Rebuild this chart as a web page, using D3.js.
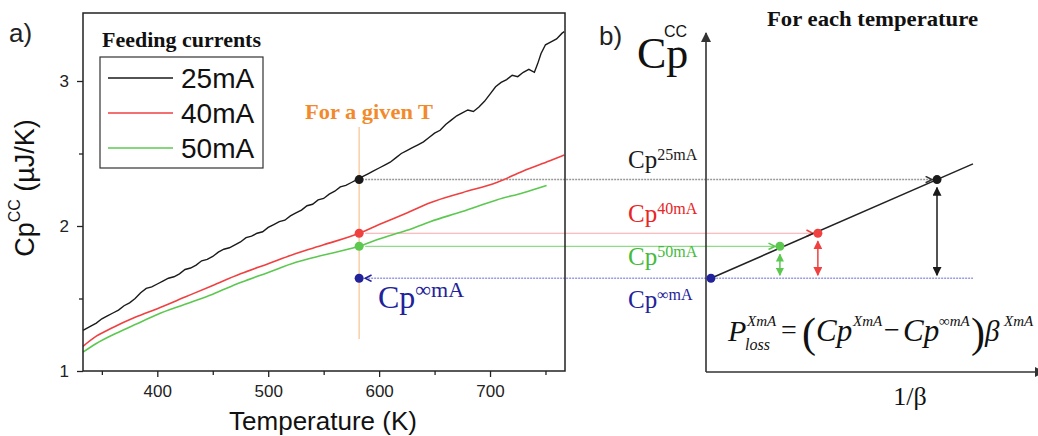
<!DOCTYPE html>
<html><head><meta charset="utf-8">
<script src="https://cdn.jsdelivr.net/npm/d3@7"></script>
<style>
html,body{margin:0;padding:0;background:#fff;}
svg{display:block;}
</style></head>
<body><svg id="c" width="1038" height="436"></svg>
<script>
// ---------- DATA ----------
const temps25 = [333,340,345,350,355,360,365,370,375,380,385,390,395,400,405,410,415,420,425,430,435,440,445,450,455,460,465,470,475,480,485,490,495,500,505,510,515,520,525,530,535,540,545,550,555,560,565,570,575,580,585,590,595,600,605,610,615,620,625,630,635,640,645,650,655,660,665,670,675,680,685,690,695,700,705,710,715,720,725,730,735,740,743,746,750,755,760,765,767];
const cp25 = [1.28,1.31,1.33,1.36,1.38,1.40,1.42,1.45,1.47,1.50,1.54,1.57,1.58,1.60,1.62,1.64,1.65,1.67,1.70,1.71,1.73,1.76,1.77,1.79,1.82,1.84,1.85,1.87,1.89,1.92,1.93,1.95,1.96,1.99,2.01,2.03,2.04,2.07,2.09,2.11,2.14,2.15,2.18,2.19,2.22,2.24,2.27,2.28,2.30,2.32,2.34,2.36,2.38,2.40,2.42,2.44,2.47,2.50,2.52,2.54,2.56,2.58,2.61,2.64,2.66,2.70,2.73,2.76,2.78,2.80,2.79,2.82,2.86,2.91,2.96,2.99,3.01,3.04,3.03,3.06,3.08,3.06,3.12,3.19,3.25,3.27,3.29,3.33,3.34];
const temps40 = [333,345,360,380,400,425,450,475,500,525,550,582,600,625,646,675,706,730,754,767];
const cp40 = [1.17,1.24,1.30,1.37,1.43,1.51,1.59,1.67,1.74,1.81,1.87,1.95,2.01,2.09,2.16,2.23,2.30,2.38,2.45,2.49];
const temps50 = [333,345,360,380,400,425,450,475,500,525,550,582,600,625,646,675,706,730,751];
const cp50 = [1.13,1.19,1.25,1.32,1.39,1.46,1.53,1.61,1.68,1.75,1.80,1.86,1.91,1.97,2.03,2.10,2.18,2.23,2.28];
const series = ["25mA","40mA","50mA"];
const givenT = 582;
const cpAtT = [2.32, 1.95, 1.86];      // 25, 40, 50 mA at given T
const cpInf = 1.64;                    // extrapolated Cp at infinite current
const invBeta = [0.70, 0.339, 0.224];  // 1/beta for 25, 40, 50 mA
const invBetaInf = 0.015;
const invBetaLineEnd = 0.809;
const xTicks = [400,500,600,700];
const xMinor = [350,450,550,650,750];
const yTicks = [1,2,3];
const yMinor = [1.5,2.5];

// ---------- SETUP ----------
const svg = d3.select("#c");
const SANS = "'Liberation Sans', Arial, sans-serif";
const SERIF = "'Liberation Serif', 'Times New Roman', serif";
const colBlack="#1a1a1a", colRed="#f04040", colGreen="#5cc850", colBlue="#22229a";
const xA = d3.scaleLinear().domain([333, 767.6]).range([83, 565]);
const y = d3.scaleLinear().domain([1, 3.469]).range([371, 13]);
const xB = d3.scaleLinear().domain([0, 1]).range([706, 1036]);

// markers
const defs = svg.append("defs");
function chevron(id, col){
  defs.append("marker").attr("id",id).attr("viewBox","0 0 10 10").attr("refX",9).attr("refY",5)
   .attr("markerWidth",8).attr("markerHeight",8).attr("markerUnits","userSpaceOnUse").attr("orient","auto-start-reverse")
   .append("path").attr("d","M1,1 L9,5 L1,9").attr("fill","none").attr("stroke",col).attr("stroke-width",2);
}
function tri(id, col, s){
  defs.append("marker").attr("id",id).attr("viewBox","0 0 10 10").attr("refX",9).attr("refY",5)
   .attr("markerWidth",s).attr("markerHeight",s).attr("markerUnits","userSpaceOnUse").attr("orient","auto-start-reverse")
   .append("path").attr("d","M0,0 L10,5 L0,10 Z").attr("fill",col);
}
chevron("chK","#333"); chevron("chR",colRed); chevron("chG",colGreen); chevron("chB",colBlue);
tri("trK",colBlack,9); tri("trR",colRed,9); tri("trG",colGreen,8); tri("trAx","#333",10);

// ---------- PANEL A ----------
svg.append("line").attr("x1",xA(givenT)).attr("x2",xA(givenT)).attr("y1",127).attr("y2",339)
  .attr("stroke","#f9cfa8").attr("stroke-width",1.5);
svg.append("text").attr("x",305).attr("y",119)
  .attr("font-family",SERIF).attr("font-weight","bold").attr("font-size",22).attr("fill","#f28a2c")
  .attr("textLength",128).attr("lengthAdjust","spacingAndGlyphs").text("For a given T");

// horizontal guide lines (left panel dot -> right panel dot)
svg.append("line").attr("x1",xA(givenT)+6).attr("x2",xB(invBeta[0])-5).attr("y1",y(cpAtT[0])).attr("y2",y(cpAtT[0]))
  .attr("stroke","#999").attr("stroke-width",1.5).attr("stroke-dasharray","2,1").attr("marker-end","url(#chK)");
svg.append("line").attr("x1",xA(givenT)+6).attr("x2",xB(invBeta[1])-5).attr("y1",y(cpAtT[1])).attr("y2",y(cpAtT[1]))
  .attr("stroke","#f7a8a8").attr("stroke-width",1.2).attr("marker-end","url(#chR)");
svg.append("line").attr("x1",xA(givenT)+6).attr("x2",xB(invBeta[2])-5).attr("y1",y(cpAtT[2])).attr("y2",y(cpAtT[2]))
  .attr("stroke","#8edc86").attr("stroke-width",1.2).attr("marker-end","url(#chG)");
svg.append("line").attr("x1",xA(givenT)+6).attr("x2",xB(invBetaLineEnd)).attr("y1",y(cpInf)).attr("y2",y(cpInf))
  .attr("stroke","#9a9ae6").attr("stroke-width",1.5).attr("stroke-dasharray","2,1").attr("marker-start","url(#chB)");

// curves
const lineA = d3.line().x(d=>xA(d[0])).y(d=>y(d[1]));
const lineS = d3.line().x(d=>xA(d[0])).y(d=>y(d[1])).curve(d3.curveMonotoneX);
svg.append("path").attr("d", lineS(d3.zip(temps40,cp40))).attr("fill","none").attr("stroke",colRed).attr("stroke-width",1.6);
svg.append("path").attr("d", lineS(d3.zip(temps50,cp50))).attr("fill","none").attr("stroke",colGreen).attr("stroke-width",1.6);
svg.append("path").attr("d", lineA(d3.zip(temps25,cp25))).attr("fill","none").attr("stroke",colBlack).attr("stroke-width",1.4);

const dotCols=[colBlack,colRed,colGreen];
cpAtT.forEach((v,i)=>svg.append("circle").attr("cx",xA(givenT)).attr("cy",y(v)).attr("r",4.5).attr("fill",dotCols[i]));
svg.append("circle").attr("cx",xA(givenT)).attr("cy",y(cpInf)).attr("r",4.5).attr("fill",colBlue);

// Cp inf label (left)
const li = svg.append("text").attr("x",378).attr("y",308).attr("font-family",SERIF).attr("fill",colBlue);
li.append("tspan").attr("font-size",32).text("Cp");
li.append("tspan").attr("font-size",22).attr("dy",-11).text("∞mA");

// frame
svg.append("rect").attr("x",83).attr("y",13).attr("width",482).attr("height",358)
  .attr("fill","none").attr("stroke","#222").attr("stroke-width",1.5);

// axes
function styleAxis(g){ g.select(".domain").remove(); g.selectAll("line").attr("stroke","#222").attr("stroke-width",1.3);
  g.selectAll("text").attr("font-family",SANS).attr("font-size",17).attr("fill","#222"); }
svg.append("g").attr("transform","translate(0,371)").call(d3.axisBottom(xA).tickValues(xTicks).tickSize(6).tickPadding(8).tickFormat(d3.format("d"))).call(styleAxis);
svg.append("g").attr("transform","translate(0,371)").call(d3.axisBottom(xA).tickValues(xMinor).tickSize(4).tickFormat("")).call(styleAxis);
svg.append("g").attr("transform","translate(83,0)").call(d3.axisLeft(y).tickValues(yTicks).tickSize(6).tickPadding(8).tickFormat(d3.format("d"))).call(styleAxis);
svg.append("g").attr("transform","translate(83,0)").call(d3.axisLeft(y).tickValues(yMinor).tickSize(4).tickFormat("")).call(styleAxis);

// axis titles
svg.append("text").attr("x",323).attr("y",430).attr("text-anchor","middle").attr("font-family",SANS).attr("font-size",26)
  .attr("fill","#111").text("Temperature (K)");
const yl = svg.append("text").attr("transform","translate(34,188) rotate(-90)").attr("text-anchor","middle")
  .attr("font-family",SANS).attr("font-size",27).attr("fill","#111");
yl.append("tspan").text("Cp");
yl.append("tspan").attr("font-size",16).attr("dy",-14).text("CC");
yl.append("tspan").attr("dy",14).text(" (µJ/K)");

// legend
svg.append("text").attr("x",102).attr("y",47).attr("font-family",SERIF).attr("font-weight","bold")
  .attr("font-size",21).attr("fill","#111").attr("textLength",159).attr("lengthAdjust","spacingAndGlyphs").text("Feeding currents");
svg.append("rect").attr("x",100).attr("y",57).attr("width",163).attr("height",111).attr("fill","#fff").attr("stroke","#333").attr("stroke-width",1.2);
series.forEach((s,i)=>{
  const yy = 78 + i*35;
  svg.append("line").attr("x1",108).attr("x2",173).attr("y1",yy).attr("y2",yy).attr("stroke",dotCols[i]).attr("stroke-width",1.6);
  svg.append("text").attr("x",181).attr("y",yy+10).attr("font-family",SANS).attr("font-size",28).attr("fill","#111").text(s);
});

// panel labels
svg.append("text").attr("x",9).attr("y",42).attr("font-family",SANS).attr("font-size",26).attr("fill","#222").text("a)");
svg.append("text").attr("x",599).attr("y",45).attr("font-family",SANS).attr("font-size",26).attr("fill","#222").text("b)");

// ---------- PANEL B ----------
svg.append("line").attr("x1",xB(0)).attr("x2",xB(0)).attr("y1",372).attr("y2",33).attr("stroke","#333").attr("stroke-width",1.6).attr("marker-end","url(#trAx)");
svg.append("line").attr("x1",xB(0)).attr("x2",1044).attr("y1",372).attr("y2",372).attr("stroke","#333").attr("stroke-width",1.6).attr("marker-end","url(#trAx)");

// big axis title: Cp with a small sans "CC" superscript, as one text element
const cbt = svg.append("text").attr("x",637).attr("y",68).attr("font-family",SERIF).attr("font-size",44).attr("fill","#111");
cbt.append("tspan").text("Cp");
cbt.append("tspan").attr("x",664).attr("y",37).attr("font-family",SANS).attr("font-size",16).text("CC");
svg.append("text").attr("x",767).attr("y",26).attr("font-family",SERIF).attr("font-weight","bold")
  .attr("font-size",22).attr("fill","#111").attr("textLength",211).attr("lengthAdjust","spacingAndGlyphs").text("For each temperature");

// fit line
svg.append("line").attr("x1",xB(invBetaInf)).attr("y1",y(cpInf))
  .attr("x2",xB(invBetaLineEnd)).attr("y2",y(cpInf + (invBetaLineEnd-invBetaInf)*(cpAtT[0]-cpInf)/(invBeta[0]-invBetaInf)))
  .attr("stroke","#222").attr("stroke-width",1.5);

// double arrows
const arrMk=["trK","trR","trG"];
invBeta.forEach((b,i)=>{
  svg.append("line").attr("x1",xB(b)).attr("x2",xB(b)).attr("y1",y(cpAtT[i])+8).attr("y2",y(cpInf)-3)
   .attr("stroke",dotCols[i]).attr("stroke-width",1.5).attr("marker-start","url(#"+arrMk[i]+")").attr("marker-end","url(#"+arrMk[i]+")");
  svg.append("circle").attr("cx",xB(b)).attr("cy",y(cpAtT[i])).attr("r",4.5).attr("fill",dotCols[i]);
});
svg.append("circle").attr("cx",xB(invBetaInf)).attr("cy",y(cpInf)).attr("r",4.5).attr("fill",colBlue);

// right labels
const rl = [["25mA",colBlack,168],["40mA","#e82424",222],["50mA","#44bb3c",265],["∞mA",colBlue,308]];
rl.forEach(([s,c,yy])=>{
  const t = svg.append("text").attr("x",628).attr("y",yy).attr("font-family",SERIF).attr("fill",c);
  t.append("tspan").attr("font-size",25).text("Cp");
  t.append("tspan").attr("font-size",16).attr("dy",-8).text(s);
});

// formula as one text element with positioned tspans
const fm = svg.append("text").attr("font-family",SERIF).attr("fill","#111").attr("font-style","italic");
function fs(x,yy,s,size,italic){ fm.append("tspan").attr("x",x).attr("y",yy).attr("font-size",size)
  .attr("font-style",italic?"italic":"normal").text(s); }
fs(728,341,"P",30,true);
fs(747,326,"XmA",15,true);
fs(745,350,"loss",16,true);
fs(781,339,"=",28,false);
fs(802,347,"(",42,false);
fs(816,341,"Cp",31,true);
fs(853,326,"XmA",15,true);
fs(884,339,"−",28,false);
fs(903,341,"Cp",31,true);
fs(939,326,"∞mA",15,true);
fs(971,347,")",42,false);
fs(985,341,"β",29,true);
fs(1004,326,"XmA",15,true);

svg.append("text").attr("x",910).attr("y",405).attr("text-anchor","middle").attr("font-family",SERIF).attr("font-size",26).attr("fill","#111").text("1/β");
</script></body></html>
